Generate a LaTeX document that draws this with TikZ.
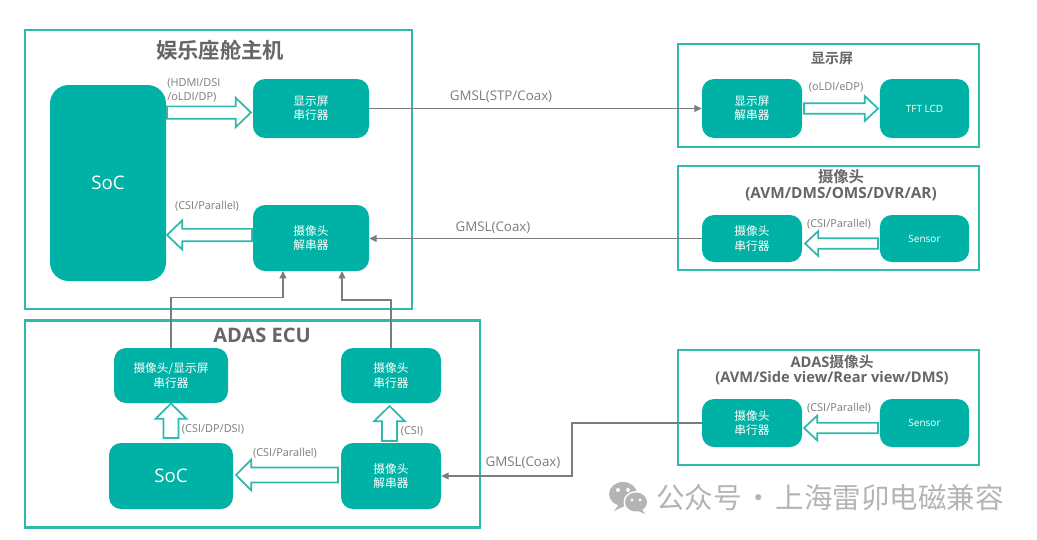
\documentclass[tikz,border=0pt]{standalone}
\usepackage{fontspec}
\usetikzlibrary{calc,arrows.meta}
\setmainfont{Open Sans}
\newfontfamily\cjk{Noto Sans CJK SC}[BoldFont={Noto Sans CJK SC Bold}]
\definecolor{teal1}{HTML}{00B2A5}
\definecolor{edge1}{HTML}{2FB9AD}
\definecolor{grey1}{HTML}{7C7C7C}
\definecolor{title1}{HTML}{666666}
\definecolor{wmark}{HTML}{B4B4B4}
\newcommand{\sz}[2]{\fontsize{#1}{#2}\selectfont}
\newcommand{\blockarrow}[2]{%
  \coordinate (m) at ($(#2)!\headlen!(#1)$);
  \filldraw[barrow]
    ($(#1)!\shaftw!-90:(#2)$) -- ($(m)!\shaftw!-90:(#2)$) -- ($(m)!\headw!-90:(#2)$) -- (#2)
    -- ($(m)!\headw!90:(#2)$) -- ($(m)!\shaftw!90:(#2)$) -- ($(#1)!\shaftw!90:(#2)$) -- cycle;}
\def\headlen{11.5pt}\def\shaftw{4.6pt}\def\headw{11pt}
\tikzset{
  panel/.style={draw=edge1,line width=1.6pt,fill=none},
  tbox/.style={fill=teal1,rounded corners=9pt,inner sep=0pt,text=white,align=center,font=\sz{8.8}{10.6}\cjk},
  barrow/.style={draw=edge1,fill=white,line width=1.3pt,miter limit=3},
  conn/.style={draw=grey1,line width=1.1pt,-{Triangle[length=5.5pt,width=5pt]}},
  lab/.style={inner sep=0pt,text=grey1,font=\sz{8.2}{10.5}},
  glab/.style={inner sep=0pt,text=grey1,font=\sz{10}{12}},
  ttl/.style={inner sep=0pt,text=title1,align=center},
}
\begin{document}
\begin{tikzpicture}[x=0.75pt,y=-0.75pt]
\useasboundingbox (0,0) rectangle (1037,539);
\fill[white] (0,0) rectangle (1037,539);
% panels
\node[panel,minimum width=290.25pt,minimum height=209.25pt,inner sep=0pt] (pmain) at (218.5,169.5) {};
\node[panel,minimum width=341.25pt,minimum height=155.25pt,inner sep=0pt] (pecu) at (252.5,424) {};
\node[panel,minimum width=225.75pt,minimum height=77.25pt,inner sep=0pt] (pdisp) at (828.5,95.5) {};
\node[panel,minimum width=225.75pt,minimum height=78pt,inner sep=0pt] (pcam) at (828.5,218) {};
\node[panel,minimum width=225.75pt,minimum height=86.25pt,inner sep=0pt] (padas) at (828.5,407.5) {};
% titles
\node[ttl,font=\sz{16}{19}\cjk\bfseries] (t1) at (220,50) {娱乐座舱主机};
\node[ttl,font=\sz{15}{18}\bfseries] (t2) at (262,335) {ADAS ECU};
\node[ttl,font=\sz{10.5}{12.5}\cjk\bfseries] (t3) at (832,59) {显示屏};
\node[ttl,font=\sz{11.5}{12}\bfseries] (t4) at (841,185) {{\cjk 摄像头}\\(AVM/DMS/OMS/DVR/AR)};
\node[ttl,font=\sz{11}{11}\bfseries] (t5) at (832,370) {ADAS{\cjk 摄像头}\\(AVM/Side view/Rear view/DMS)};
% blocks
\node[tbox,rounded corners=14pt,minimum width=87pt,minimum height=147pt,font=\sz{14}{16}] (soc1) at (108,183) {SoC};
\node[tbox,minimum width=87pt,minimum height=44.25pt] (dser) at (311,108.5) {显示屏\\串行器};
\node[tbox,minimum width=87pt,minimum height=49.5pt] (cdes) at (311,238) {摄像头\\解串器};
\node[tbox,minimum width=75pt,minimum height=44.25pt] (ddes) at (752,108.5) {显示屏\\解串器};
\node[tbox,minimum width=67pt,minimum height=44.25pt,font=\sz{7.5}{9}] (lcd) at (924.5,108.5) {TFT LCD};
\node[tbox,minimum width=75pt,minimum height=35.25pt] (cser) at (752,238.5) {摄像头\\串行器};
\node[tbox,minimum width=67pt,minimum height=35.25pt,font=\sz{7.5}{9}] (sen1) at (924.5,238.5) {Sensor};
\node[tbox,minimum width=75pt,minimum height=36pt] (aser) at (752,423) {摄像头\\串行器};
\node[tbox,minimum width=67pt,minimum height=36pt,font=\sz{7.5}{9}] (sen2) at (924.5,423) {Sensor};
\node[tbox,minimum width=85.5pt,minimum height=41.25pt] (cdser) at (171,375.5) {摄像头/显示屏\\串行器};
\node[tbox,minimum width=75pt,minimum height=41.25pt] (eser) at (391,375.5) {摄像头\\串行器};
\node[tbox,minimum width=93pt,minimum height=49.5pt,font=\sz{14}{16}] (soc2) at (171,476) {SoC};
\node[tbox,minimum width=75pt,minimum height=49.5pt] (edes) at (391,476) {摄像头\\解串器};
% connectors
\draw[conn] (dser.east) -- (ddes.west);
\draw[conn] (cser.west) -- (cdes.east |- cser.west);
\draw[conn] (aser.west) -| (572,476) -- (edes.east);
\draw[conn] (cdser.north) |- (283,297.5) -- (283,271);
\draw[conn] (eser.north) |- (342,300) -- (342,271);
% block arrows
\coordinate (a1s) at (167,112.5); \coordinate (a1e) at (251,112.5);
\coordinate (a2s) at (252,235); \coordinate (a2e) at (167,235);
\coordinate (a3s) at (804,108.5); \coordinate (a3e) at (878,108.5);
\coordinate (a4s) at (878,243.5); \coordinate (a4e) at (805,243.5);
\coordinate (a5s) at (878,428); \coordinate (a5e) at (804,428);
\coordinate (a6s) at (171,438); \coordinate (a6e) at (171,403.5);
\coordinate (a7s) at (389.5,441); \coordinate (a7e) at (389.5,406);
\coordinate (a8s) at (338,475); \coordinate (a8e) at (236,475);
\blockarrow{a1s}{a1e}
\blockarrow{a2s}{a2e}
\def\headlen{10pt}\def\shaftw{4pt}\def\headw{9.4pt}
\blockarrow{a3s}{a3e}
\blockarrow{a4s}{a4e}
\blockarrow{a5s}{a5e}
\def\headlen{11.5pt}\def\shaftw{5.6pt}\def\headw{11.6pt}
\blockarrow{a6s}{a6e}
\blockarrow{a7s}{a7e}
\blockarrow{a8s}{a8e}
% labels
\node[lab,align=left,anchor=west] (l1) at (167,90) {(HDMI/DSI\\/oLDI/DP)};
\node[lab] (l2) at (207,206) {(CSI/Parallel)};
\node[lab] (l3) at (836,87) {(oLDI/eDP)};
\node[lab] (l4) at (839,224) {(CSI/Parallel)};
\node[lab] (l5) at (839,408) {(CSI/Parallel)};
\node[lab] (l6) at (213,429) {(CSI/DP/DSI)};
\node[lab] (l7) at (412,431) {(CSI)};
\node[lab] (l8) at (285,453) {(CSI/Parallel)};
\node[glab] (g1) at (501,97) {GMSL(STP/Coax)};
\node[glab] (g2) at (493,228) {GMSL(Coax)};
\node[glab] (g3) at (523,463) {GMSL(Coax)};
% watermark
\fill[wmark] (623,494) ellipse (14 and 12);
\fill[wmark] (620,503) -- (614,511) -- (627,505) -- cycle;
\fill[white] (636,502) ellipse (12.5 and 11);
\fill[wmark] (636,502) ellipse (11 and 9.5);
\fill[wmark] (641,508) -- (645,514) -- (636,510) -- cycle;
\fill[white] (618,490) circle (2) (628,490) circle (2) (632,500) circle (1.6) (640,500) circle (1.6);
\node[inner sep=0pt,text=wmark,anchor=west,font=\sz{21.4}{25}\cjk] (wm) at (656,498) {公众号\hspace{2pt}·\hspace{2pt}上海雷卯电磁兼容};
\end{tikzpicture}
\end{document}
